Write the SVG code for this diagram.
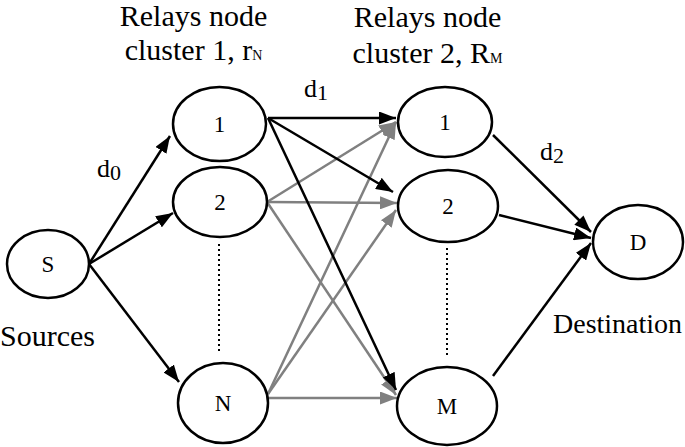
<svg xmlns="http://www.w3.org/2000/svg" width="685" height="447" viewBox="0 0 685 447">
<style>
.node ellipse{fill:#fff;stroke:#000;stroke-width:2.5}
.lbl{font-family:'Liberation Serif','DejaVu Serif',serif;fill:#000}
.nl{font-size:23px;text-anchor:middle}
.big{font-size:30px}
.dl{font-size:26px}
.blk{stroke:#000;stroke-width:2.5;fill:none;marker-end:url(#ab)}
.gry{stroke:#808080;stroke-width:2.5;fill:none;marker-end:url(#ag)}
.dot{stroke:#000;stroke-width:2;stroke-dasharray:2 3;fill:none}
</style>
<defs>
<marker id="ab" markerUnits="userSpaceOnUse" markerWidth="18" markerHeight="13" refX="17" refY="6.5" orient="auto">
<path d="M0,0 L17,6.5 L0,13 z" fill="#000"/>
</marker>
<marker id="ag" markerUnits="userSpaceOnUse" markerWidth="18" markerHeight="13" refX="17" refY="6.5" orient="auto">
<path d="M0,0 L17,6.5 L0,13 z" fill="#808080"/>
</marker>
</defs>
<rect width="685" height="447" fill="#fff"/>

<g id="titles" class="lbl big">
<text x="193.5" y="26" text-anchor="middle">Relays node</text>
<text x="193.5" y="60" text-anchor="middle">cluster 1, r<tspan font-size="14">N</tspan></text>
<text x="427.5" y="27" text-anchor="middle">Relays node</text>
<text x="427.5" y="63" text-anchor="middle">cluster 2, R<tspan font-size="14">M</tspan></text>
</g>

<g id="connectors">
<line class="blk" x1="89" y1="264" x2="170" y2="136"/>
<line class="blk" x1="89" y1="264" x2="173" y2="213"/>
<line class="blk" x1="89" y1="264" x2="179" y2="382"/>
<line class="gry" x1="267" y1="202" x2="396" y2="122"/>
<line class="gry" x1="267" y1="202" x2="397" y2="203"/>
<line class="gry" x1="267" y1="202" x2="396" y2="395"/>
<line class="gry" x1="268" y1="394" x2="396" y2="122"/>
<line class="gry" x1="268" y1="394" x2="396" y2="210"/>
<line class="gry" x1="268" y1="398" x2="397" y2="398"/>
<line class="blk" x1="268" y1="118" x2="396" y2="118"/>
<line class="blk" x1="268" y1="118" x2="393" y2="192"/>
<line class="blk" x1="268" y1="118" x2="396" y2="390"/>
<line class="blk" x1="493" y1="135" x2="591" y2="232"/>
<line class="blk" x1="499" y1="215" x2="591" y2="238"/>
<line class="blk" x1="493" y1="376" x2="591" y2="243"/>
<line class="dot" x1="219" y1="244" x2="219" y2="354"/>
<line class="dot" x1="447" y1="248" x2="447" y2="358"/>
</g>

<g id="node-S" class="node"><ellipse cx="48" cy="264" rx="41" ry="34"/><text class="lbl nl" x="48" y="272">S</text></g>
<g id="node-r1" class="node"><ellipse cx="219.5" cy="124" rx="46.5" ry="37"/><text class="lbl nl" x="219.5" y="132">1</text></g>
<g id="node-r2" class="node"><ellipse cx="220" cy="202" rx="47" ry="35"/><text class="lbl nl" x="220" y="210">2</text></g>
<g id="node-rN" class="node"><ellipse cx="223" cy="403" rx="45" ry="40"/><text class="lbl nl" x="223" y="411">N</text></g>
<g id="node-R1" class="node"><ellipse cx="445" cy="122" rx="47" ry="35"/><text class="lbl nl" x="445" y="130">1</text></g>
<g id="node-R2" class="node"><ellipse cx="448" cy="206" rx="50" ry="36"/><text class="lbl nl" x="448" y="214">2</text></g>
<g id="node-RM" class="node"><ellipse cx="447" cy="406" rx="50" ry="39"/><text class="lbl nl" x="447" y="414">M</text></g>
<g id="node-D" class="node"><ellipse cx="638" cy="242" rx="45" ry="37"/><text class="lbl nl" x="638" y="250">D</text></g>

<g id="labels" class="lbl">
<text class="dl" x="97" y="177">d<tspan font-size="22" dy="3">0</tspan></text>
<text class="dl" x="304" y="97">d<tspan font-size="22" dy="3">1</tspan></text>
<text class="dl" x="540" y="160">d<tspan font-size="22" dy="3">2</tspan></text>
<text class="big" x="0" y="346">Sources</text>
<text x="553" y="333" font-size="28">Destination</text>
</g>
</svg>
